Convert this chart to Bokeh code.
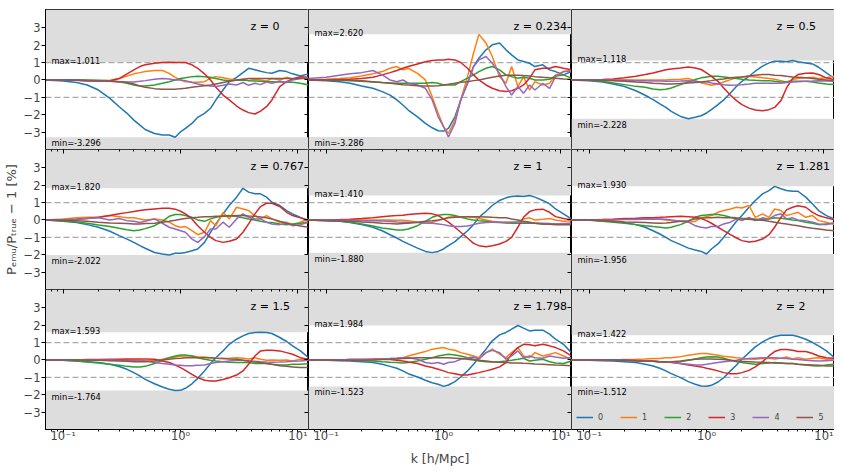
from bokeh.plotting import figure
from bokeh.layouts import gridplot
from bokeh.models import (Range1d, FixedTicker, LogTicker, BoxAnnotation, Span, Label,
                          Legend, LegendItem, LinearAxis, LogAxis, CustomJSTickFormatter)
from bokeh.embed import file_html
from bokeh.resources import INLINE

# ---------------- data ----------------
K = [0.07, 0.1, 0.13, 0.16, 0.2, 0.25, 0.3, 0.35, 0.4, 0.45, 0.5, 0.6, 0.7, 0.8, 0.9,
     1.0, 1.1, 1.25, 1.4, 1.6, 1.8, 2.0, 2.3, 2.6, 3.0, 3.4, 3.8, 4.3, 4.8, 5.4, 6.0,
     7.0, 8.0, 9.0, 10.5, 12.3]

Z_LABELS = ["0", "0.234", "0.5", "0.767", "1", "1.281", "1.5", "1.798", "2"]
MAX_VALS = [1.011, 2.620, 1.118, 1.820, 1.410, 1.930, 1.593, 1.984, 1.422]
MIN_VALS = [-3.296, -3.286, -2.228, -2.022, -1.880, -1.956, -1.764, -1.523, -1.512]
SERIES = ["0", "1", "2", "3", "4", "5"]
COLORS = ["#1f77b4", "#ff7f0e", "#2ca02c", "#d62728", "#9467bd", "#8c564b"]

Z_0 = [
    [0, -0.06, -0.15, -0.29, -0.58, -1.06, -1.54, -1.92, -2.31, -2.6, -2.85, -3.08, -3.17, -3.17, -3.3, -2.98, -2.79, -2.5, -2.15, -1.92, -1.63, -1.15, -0.58, -0.1, 0.15, 0.42, 0.67, 0.58, 0.5, 0.42, 0.38, 0.54, 0.48, 0.35, 0.23, 0.35],
    [0, 0, 0, -0.02, -0.04, -0.02, 0.08, 0.23, 0.35, 0.42, 0.48, 0.54, 0.54, 0.38, 0.15, 0, -0.1, -0.12, -0.13, -0.1, 0.1, 0.19, 0.13, 0.06, 0, 0.04, -0.04, 0.04, 0, -0.06, 0.08, 0, 0.15, 0.04, 0.15, 0.08],
    [0, 0, 0, 0, -0.02, -0.04, -0.1, -0.19, -0.29, -0.35, -0.35, -0.29, -0.19, -0.1, 0, 0.08, 0.13, 0.19, 0.21, 0.19, 0.15, 0.08, 0, -0.04, -0.02, 0, -0.04, -0.06, -0.08, -0.1, -0.1, -0.12, -0.13, -0.13, -0.19, -0.29],
    [0, 0, -0.02, -0.04, -0.06, -0.06, 0.08, 0.35, 0.58, 0.77, 0.87, 0.96, 1.0, 1.01, 1.0, 1.0, 1.0, 0.87, 0.67, 0.35, 0, -0.42, -0.87, -1.15, -1.5, -1.73, -1.88, -1.96, -1.79, -1.54, -1.15, -0.38, -0.1, 0.06, 0.19, 0.15],
    [0, 0, -0.02, -0.04, -0.06, -0.08, -0.1, -0.12, -0.12, -0.08, -0.04, 0.04, 0.08, 0.06, 0, 0, -0.04, -0.15, -0.23, -0.31, -0.35, -0.38, -0.31, -0.23, -0.29, -0.15, -0.31, -0.19, -0.27, -0.12, -0.19, -0.08, -0.15, 0, 0.08, 0.15],
    [0, 0, -0.02, -0.04, -0.06, -0.08, -0.1, -0.15, -0.23, -0.35, -0.42, -0.5, -0.54, -0.54, -0.54, -0.5, -0.48, -0.42, -0.38, -0.33, -0.29, -0.23, -0.15, -0.08, 0, 0.04, 0.08, 0.08, 0.08, 0.08, 0.08, 0.08, 0.08, 0.08, 0.08, 0.08],
]
Z_0234 = [
    [0, -0.04, -0.1, -0.19, -0.35, -0.48, -0.67, -0.87, -1.15, -1.44, -1.73, -2.12, -2.5, -2.75, -2.92, -2.94, -2.79, -2.12, -1.15, -0.19, 0.77, 1.25, 1.73, 2.02, 2.12, 1.73, 1.44, 1.15, 1.06, 0.96, 0.77, 0.87, 0.58, 0.48, 0.29, 0.48],
    [0, 0.04, 0.08, 0.13, 0.23, 0.35, 0.48, 0.67, 0.77, 0.58, 0.67, 0.38, 0, -0.96, -1.92, -2.69, -3.08, -2.31, -1.15, 0.19, 1.54, 2.62, 2.12, 1.35, 0.19, -0.19, 0.77, -0.38, 0.19, -0.58, -0.1, -0.29, -0.19, 0.29, 0.48, 0.54],
    [0, 0, -0.02, -0.04, -0.08, -0.12, -0.15, -0.17, -0.19, -0.19, -0.19, -0.19, -0.19, -0.15, -0.19, -0.29, -0.29, -0.29, -0.1, 0.1, 0.29, 0.48, 0.67, 0.77, 0.58, 0.29, 0.19, 0.1, 0.15, 0.1, 0, 0, 0.04, 0.23, 0.29, 0.1],
    [0, 0, 0.02, 0.04, 0.08, 0.15, 0.29, 0.42, 0.54, 0.67, 0.77, 0.92, 1.04, 1.12, 1.15, 1.15, 1.19, 1.15, 1.0, 0.67, 0.29, 0, -0.29, -0.48, -0.62, -0.67, -0.62, -0.48, -0.29, 0.1, 0.58, 0.67, 0.67, 0.77, 0.67, 0.58],
    [0.08, 0.15, 0.27, 0.35, 0.42, 0.54, 0.29, 0, -0.1, 0, -0.19, -0.29, -0.48, -1.15, -2.12, -2.69, -3.28, -2.5, -1.15, -0.19, 0.77, 1.15, 1.35, 0.96, 0.38, -0.38, -0.87, -0.38, -0.77, -0.29, -0.58, -0.19, -0.48, 0.19, 0.48, 0.48],
    [0, 0, 0, -0.02, -0.04, -0.1, -0.15, -0.19, -0.23, -0.27, -0.29, -0.33, -0.35, -0.35, -0.33, -0.29, -0.25, -0.19, -0.13, -0.1, -0.04, 0, 0.08, 0.15, 0.23, 0.27, 0.27, 0.27, 0.25, 0.23, 0.19, 0.15, 0.12, 0.1, 0.06, 0.04],
]
Z_05 = [
    [0, -0.04, -0.12, -0.23, -0.38, -0.62, -0.88, -1.13, -1.38, -1.58, -1.81, -2.1, -2.23, -2.15, -2.06, -1.9, -1.71, -1.42, -1.15, -0.75, -0.37, -0.08, 0.21, 0.5, 0.79, 0.98, 1.08, 1.08, 1.04, 1.12, 1.04, 0.98, 0.92, 0.73, 0.4, 0.08],
    [0, 0, 0, 0, 0, 0, 0, 0, 0, 0, 0.02, 0.04, 0.08, -0.04, -0.17, -0.23, -0.31, -0.23, -0.12, 0.02, 0.12, 0.17, 0.21, 0.17, 0.12, 0.08, 0.04, -0.04, -0.12, 0.02, 0.08, 0.12, 0.15, 0.08, 0.12, 0.21],
    [0, -0.02, -0.08, -0.17, -0.27, -0.37, -0.42, -0.52, -0.56, -0.54, -0.46, -0.27, -0.12, 0.02, 0.12, 0.17, 0.21, 0.21, 0.17, 0.12, 0.08, 0.04, 0, -0.02, -0.04, -0.04, -0.08, -0.12, -0.12, -0.08, -0.08, -0.08, -0.12, -0.17, -0.23, -0.27],
    [0, 0, 0.02, 0.06, 0.12, 0.21, 0.31, 0.4, 0.5, 0.58, 0.63, 0.69, 0.75, 0.69, 0.6, 0.4, 0.21, -0.08, -0.46, -0.88, -1.19, -1.42, -1.62, -1.73, -1.77, -1.71, -1.58, -1.19, -0.46, 0.08, 0.31, 0.38, 0.4, 0.31, 0.12, 0],
    [0, 0, 0, -0.02, -0.02, -0.04, -0.04, -0.06, -0.06, -0.08, -0.08, -0.06, -0.04, -0.08, -0.12, -0.12, -0.17, -0.23, -0.27, -0.31, -0.29, -0.27, -0.23, -0.19, -0.19, -0.19, -0.19, -0.19, -0.15, -0.12, -0.1, -0.08, -0.06, -0.04, -0.06, -0.08],
    [0, -0.02, -0.02, -0.04, -0.08, -0.12, -0.15, -0.19, -0.21, -0.23, -0.23, -0.21, -0.17, -0.15, -0.12, -0.08, -0.04, 0.02, 0.06, 0.12, 0.15, 0.17, 0.23, 0.27, 0.31, 0.31, 0.27, 0.25, 0.21, 0.17, 0.15, 0.12, 0.08, 0.04, 0, -0.04],
]
Z_0767 = [
    [0, -0.08, -0.15, -0.27, -0.42, -0.65, -0.9, -1.1, -1.29, -1.48, -1.63, -1.87, -1.96, -2.02, -1.92, -1.92, -1.87, -1.77, -1.67, -1.29, -0.71, -0.23, 0.35, 0.83, 1.31, 1.82, 1.6, 1.5, 1.5, 1.31, 1.02, 0.83, 0.54, 0.35, 0.15, -0.04],
    [0, 0.06, 0.12, 0.15, 0.15, 0.25, 0.19, 0.12, 0.12, 0.06, 0, 0.06, 0, -0.13, -0.33, -0.42, -0.38, -0.62, -0.85, -0.71, -0.04, -0.33, 0.44, 0.06, 0.73, 0.63, 0.54, 0.25, 0.06, 0.25, 0.06, -0.13, -0.13, -0.27, -0.13, 0.06],
    [0, -0.04, -0.12, -0.19, -0.29, -0.38, -0.48, -0.56, -0.62, -0.58, -0.5, -0.33, -0.08, 0.21, 0.31, 0.31, 0.25, 0.15, 0, -0.08, 0.06, 0.15, 0.23, 0.25, 0.19, 0.12, 0.06, 0, -0.08, -0.13, -0.15, -0.23, -0.27, -0.23, -0.19, -0.12],
    [0, 0, 0.04, 0.08, 0.15, 0.25, 0.35, 0.42, 0.48, 0.54, 0.58, 0.63, 0.67, 0.67, 0.62, 0.5, 0.35, 0.06, -0.33, -0.71, -1.0, -1.19, -1.29, -1.23, -1.1, -0.71, -0.23, 0.35, 0.77, 0.96, 0.96, 0.77, 0.44, 0.25, 0.12, -0.04],
    [0, 0, 0.04, 0.08, 0.12, 0, 0.08, -0.04, -0.08, -0.15, -0.08, 0.06, -0.19, -0.42, -0.52, -0.62, -0.71, -1.1, -1.29, -0.96, -0.52, -0.52, -0.13, -0.42, 0.06, 0.35, 0.15, 0.06, 0.06, -0.13, -0.23, -0.27, -0.19, -0.33, -0.27, -0.13],
    [0, -0.02, -0.04, -0.08, -0.13, -0.17, -0.19, -0.21, -0.23, -0.23, -0.21, -0.19, -0.13, -0.08, -0.02, 0.04, 0.08, 0.12, 0.15, 0.19, 0.19, 0.21, 0.21, 0.23, 0.25, 0.25, 0.23, 0.21, 0.17, 0.12, 0.06, -0.08, -0.19, -0.27, -0.35, -0.42],
]
Z_1 = [
    [0, -0.04, -0.08, -0.15, -0.27, -0.42, -0.62, -0.85, -1.04, -1.23, -1.38, -1.62, -1.81, -1.88, -1.81, -1.67, -1.48, -1.25, -0.96, -0.62, -0.27, 0.15, 0.5, 0.83, 1.12, 1.27, 1.35, 1.38, 1.35, 1.41, 1.31, 1.12, 0.92, 0.63, 0.35, 0.06],
    [0, 0, 0, 0, 0, 0, 0, 0, -0.02, -0.02, -0.04, -0.13, -0.19, -0.13, -0.04, 0.06, 0.15, 0.19, 0.19, 0.19, 0.15, 0.08, 0, -0.08, -0.13, -0.19, -0.19, -0.13, 0.06, 0.12, 0, 0.04, 0.08, 0, -0.08, -0.04],
    [0, -0.02, -0.06, -0.13, -0.23, -0.35, -0.46, -0.52, -0.58, -0.58, -0.52, -0.33, -0.08, 0.15, 0.27, 0.31, 0.31, 0.25, 0.15, 0.06, 0, -0.04, -0.08, -0.13, -0.15, -0.15, -0.19, -0.19, -0.19, -0.19, -0.19, -0.23, -0.23, -0.23, -0.23, -0.19],
    [0, 0, 0.02, 0.04, 0.08, 0.13, 0.19, 0.23, 0.25, 0.27, 0.31, 0.35, 0.38, 0.35, 0.25, 0.06, -0.13, -0.42, -0.71, -1.04, -1.35, -1.48, -1.54, -1.48, -1.38, -1.23, -1.0, -0.42, 0.15, 0.48, 0.58, 0.62, 0.44, 0.19, 0.08, 0],
    [0, 0, -0.02, -0.02, -0.04, -0.04, -0.06, -0.08, -0.12, -0.13, -0.13, -0.15, -0.17, -0.19, -0.23, -0.27, -0.33, -0.38, -0.38, -0.35, -0.27, -0.19, -0.15, -0.13, -0.13, -0.13, -0.12, -0.12, -0.13, -0.15, -0.17, -0.19, -0.21, -0.23, -0.21, -0.19],
    [0, -0.04, -0.06, -0.08, -0.12, -0.15, -0.19, -0.21, -0.23, -0.21, -0.19, -0.13, -0.08, -0.04, 0, 0.06, 0.12, 0.15, 0.17, 0.19, 0.19, 0.19, 0.17, 0.15, 0.13, 0.12, 0.06, 0, -0.08, -0.13, -0.19, -0.23, -0.25, -0.27, -0.27, -0.27],
]
Z_1281 = [
    [0, 0, -0.04, -0.08, -0.15, -0.27, -0.42, -0.62, -0.81, -1.0, -1.19, -1.42, -1.62, -1.73, -1.81, -1.96, -1.67, -1.38, -1.0, -0.52, -0.08, 0.25, 0.73, 1.12, 1.5, 1.69, 1.93, 1.79, 1.69, 1.65, 1.65, 1.31, 0.92, 0.54, 0.25, 0.06],
    [0, 0, 0.02, 0.02, 0.04, 0.06, 0.08, 0.06, 0.04, 0, -0.04, -0.08, -0.13, -0.08, 0.12, 0.19, 0.25, 0.44, 0.54, 0.63, 0.73, 0.69, 0.83, 0.15, 0.35, 0.15, 0.63, 0.54, 0.25, 0.35, 0.44, 0.15, 0.25, -0.04, -0.13, -0.27],
    [0, -0.02, -0.08, -0.13, -0.19, -0.27, -0.33, -0.38, -0.42, -0.46, -0.42, -0.27, -0.08, 0.15, 0.25, 0.29, 0.31, 0.31, 0.25, 0.15, 0.12, 0.1, 0.08, 0.06, 0.04, 0.06, 0.12, 0.1, 0.06, 0, -0.04, -0.13, -0.19, -0.27, -0.23, -0.19],
    [0, 0, 0.02, 0.04, 0.08, 0.1, 0.12, 0.13, 0.15, 0.17, 0.19, 0.21, 0.19, 0.15, 0.08, -0.04, -0.19, -0.42, -0.62, -0.85, -1.04, -1.19, -1.27, -1.23, -1.1, -0.85, -0.42, 0.15, 0.58, 0.73, 0.81, 0.73, 0.44, 0.25, 0.12, 0],
    [0, 0, 0, 0, 0.02, 0.02, 0.04, 0.04, 0.06, 0.04, 0, -0.08, -0.13, -0.33, -0.42, -0.46, -0.38, -0.38, -0.23, -0.13, 0.06, -0.04, 0.15, -0.04, 0.12, 0.06, 0.25, 0.35, 0.06, 0.12, 0, -0.04, -0.13, -0.23, -0.27, -0.15],
    [0, 0, -0.04, -0.08, -0.12, -0.13, -0.15, -0.17, -0.19, -0.17, -0.15, -0.08, -0.04, 0.06, 0.1, 0.12, 0.13, 0.15, 0.13, 0.12, 0.08, 0.06, 0.04, 0, -0.02, -0.08, -0.13, -0.19, -0.23, -0.29, -0.33, -0.42, -0.48, -0.52, -0.58, -0.62],
]
Z_15 = [
    [0, -0.02, -0.06, -0.1, -0.15, -0.25, -0.38, -0.54, -0.73, -0.92, -1.12, -1.37, -1.56, -1.69, -1.76, -1.75, -1.63, -1.37, -1.06, -0.63, -0.21, 0.13, 0.52, 0.9, 1.19, 1.38, 1.52, 1.58, 1.59, 1.58, 1.52, 1.29, 1.06, 0.81, 0.52, 0.13],
    [0, 0, 0, 0, 0, 0, 0.02, 0, -0.02, -0.02, -0.04, -0.06, 0.04, 0.13, 0.17, 0.21, 0.23, 0.23, 0.19, 0.17, 0.13, 0.1, 0.08, 0.1, 0.13, 0.1, 0.06, 0.13, 0.04, -0.02, 0, -0.02, 0, -0.06, 0.04, 0.02],
    [0, -0.02, -0.06, -0.12, -0.17, -0.25, -0.31, -0.37, -0.4, -0.4, -0.37, -0.21, -0.02, 0.13, 0.23, 0.29, 0.29, 0.23, 0.13, 0.04, -0.02, -0.06, -0.1, -0.13, -0.15, -0.15, -0.15, -0.21, -0.21, -0.21, -0.25, -0.29, -0.29, -0.25, -0.25, -0.21],
    [0, 0, 0, 0.02, 0.02, 0.04, 0.04, 0.06, 0.06, 0.06, 0.06, 0.04, -0.06, -0.15, -0.29, -0.44, -0.6, -0.83, -1.02, -1.17, -1.21, -1.21, -1.13, -1.02, -0.87, -0.63, -0.25, 0.23, 0.52, 0.56, 0.56, 0.52, 0.42, 0.33, 0.13, 0.04],
    [0, 0, 0, 0, 0, 0, -0.02, -0.04, -0.04, -0.06, -0.06, -0.15, -0.21, -0.25, -0.29, -0.31, -0.33, -0.33, -0.31, -0.29, -0.21, -0.15, -0.1, -0.06, -0.02, -0.02, -0.06, -0.08, -0.1, -0.12, -0.13, -0.12, -0.1, -0.08, -0.06, -0.02],
    [0, 0, 0, -0.02, -0.02, -0.04, -0.06, -0.08, -0.1, -0.1, -0.1, -0.06, 0, 0.04, 0.08, 0.1, 0.12, 0.13, 0.13, 0.13, 0.12, 0.1, 0.08, 0.06, 0.04, -0.02, -0.06, -0.12, -0.15, -0.21, -0.25, -0.33, -0.37, -0.4, -0.44, -0.44],
]
Z_1798 = [
    [0, -0.02, -0.04, -0.06, -0.1, -0.15, -0.25, -0.37, -0.48, -0.63, -0.79, -0.98, -1.17, -1.31, -1.4, -1.52, -1.44, -1.25, -0.98, -0.63, -0.25, 0.13, 0.62, 1.1, 1.44, 1.58, 1.77, 1.98, 1.83, 1.67, 1.71, 1.71, 1.48, 1.19, 0.9, 0.42],
    [0, 0, 0, 0.02, 0.02, 0.04, 0.06, 0.08, 0.1, 0.13, 0.23, 0.37, 0.48, 0.62, 0.67, 0.71, 0.62, 0.56, 0.42, 0.33, 0.23, 0.13, 0.42, 0.62, 0.33, 0.13, 0.42, 0.71, 0.23, 0.13, 0.42, 0.23, 0.33, 0.42, 0.23, 0.04],
    [0, 0, 0, -0.02, -0.04, -0.06, -0.1, -0.13, -0.15, -0.17, -0.15, -0.06, 0.04, 0.13, 0.23, 0.29, 0.33, 0.29, 0.23, 0.13, 0.04, -0.06, -0.1, -0.12, -0.1, -0.06, -0.02, 0.04, 0.1, -0.06, -0.02, 0.04, -0.1, -0.17, -0.21, -0.06],
    [0, 0, 0, 0.02, 0.02, 0.04, 0.04, 0.02, -0.02, -0.06, -0.12, -0.21, -0.35, -0.44, -0.54, -0.63, -0.73, -0.79, -0.87, -0.87, -0.79, -0.73, -0.63, -0.54, -0.4, -0.15, 0.33, 0.71, 0.9, 0.87, 0.81, 0.9, 0.81, 0.71, 0.52, 0.23],
    [0, 0, 0, 0.02, 0.02, 0.04, 0.06, 0.08, 0.1, 0.12, 0.13, 0.04, -0.15, -0.21, -0.15, -0.25, -0.15, -0.1, 0.04, 0.13, 0.17, 0.04, 0.42, 0.56, 0.42, 0.04, 0.23, 0.52, 0.13, 0.23, 0.13, 0.1, 0.23, 0.17, 0.1, 0.13],
    [0, 0, -0.02, -0.02, -0.02, 0, 0.02, 0.04, 0.06, 0.08, 0.1, 0.12, 0.13, 0.13, 0.13, 0.13, 0.12, 0.1, 0.08, 0.04, 0, -0.02, -0.06, -0.1, -0.13, -0.15, -0.17, -0.17, -0.19, -0.21, -0.23, -0.25, -0.27, -0.29, -0.31, -0.33],
]
Z_2 = [
    [0, -0.02, -0.04, -0.06, -0.1, -0.15, -0.25, -0.35, -0.48, -0.63, -0.79, -1.02, -1.25, -1.4, -1.5, -1.51, -1.46, -1.27, -1.02, -0.63, -0.29, 0.04, 0.42, 0.75, 1.04, 1.23, 1.35, 1.42, 1.42, 1.42, 1.35, 1.19, 1.0, 0.81, 0.52, 0.13],
    [0, 0, 0, 0, 0.02, 0.04, 0.06, 0.08, 0.08, 0.12, 0.13, 0.19, 0.27, 0.33, 0.37, 0.37, 0.33, 0.27, 0.21, 0.17, 0.13, 0.1, 0.06, 0.04, 0.08, 0.1, 0.06, 0.1, 0.17, 0.06, 0.13, 0.04, 0.1, 0.13, 0.04, 0.06],
    [0, 0, 0, 0, -0.02, -0.04, -0.06, -0.08, -0.1, -0.12, -0.13, -0.1, -0.02, 0.06, 0.13, 0.17, 0.19, 0.17, 0.1, -0.02, -0.1, -0.15, -0.21, -0.25, -0.21, -0.17, -0.15, -0.17, -0.21, -0.21, -0.25, -0.29, -0.33, -0.35, -0.29, -0.25],
    [0, 0, 0, 0, -0.02, -0.04, -0.06, -0.08, -0.1, -0.12, -0.13, -0.21, -0.29, -0.35, -0.4, -0.48, -0.54, -0.63, -0.73, -0.79, -0.79, -0.73, -0.6, -0.4, -0.1, 0.23, 0.48, 0.6, 0.6, 0.56, 0.48, 0.48, 0.37, 0.23, 0.13, 0.1],
    [0, 0, 0, 0, 0, -0.02, -0.04, -0.06, -0.1, -0.12, -0.15, -0.21, -0.25, -0.29, -0.29, -0.25, -0.21, -0.15, -0.1, -0.06, -0.02, 0.04, 0.08, 0.1, 0.12, 0.13, 0.12, 0.1, 0.08, 0.04, 0.02, -0.02, -0.04, -0.06, -0.04, -0.02],
    [0, 0, 0, 0, -0.02, -0.04, -0.06, -0.08, -0.1, -0.12, -0.1, -0.06, 0, 0.04, 0.06, 0.06, 0.06, 0.04, 0.02, -0.02, -0.06, -0.08, -0.1, -0.12, -0.13, -0.15, -0.17, -0.19, -0.21, -0.21, -0.25, -0.27, -0.29, -0.31, -0.35, -0.35],
]
PANELS = [Z_0, Z_0234, Z_05, Z_0767, Z_1, Z_1281, Z_15, Z_1798, Z_2]

# ---------------- style ----------------
FONT = "DejaVu Sans"
TICK_FS = "11.5px"
FW, FH = 263, 140
YTICKS = [-3, -2, -1, 0, 1, 2, 3]
SHADE = "#dddddd"

sup_fmt = CustomJSTickFormatter(code="""
const e = Math.round(Math.log10(tick));
const sup = {"-": "\u207b", "0": "\u2070", "1": "\u00b9", "2": "\u00b2", "3": "\u00b3",
             "4": "\u2074", "5": "\u2075", "6": "\u2076", "7": "\u2077", "8": "\u2078", "9": "\u2079"};
return "10" + String(e).split("").map(c => sup[c]).join("");
""")


def blank_fmt():
    return CustomJSTickFormatter(code='return "";')


figs = []
for i in range(9):
    r, c = divmod(i, 3)
    p = figure(x_axis_type="log", title=None,
               x_range=Range1d(0.0707, 12.3), y_range=Range1d(-4.0, 4.05),
               frame_width=FW, frame_height=FH,
               x_axis_location="below" if r == 2 else None,
               y_axis_location="left" if c == 0 else None,
               toolbar_location=None, output_backend="svg",
               min_border_left=36 if c == 0 else 0, min_border_right=0,
               min_border_top=9 if r == 0 else 0, min_border_bottom=0,
               background_fill_color="white", border_fill_color="white",
               outline_line_color="black", outline_line_width=1)
    p.grid.visible = False

    if c == 0:
        ax = p.yaxis[0]
        ax.ticker = FixedTicker(ticks=YTICKS, minor_ticks=[])
        ax.major_tick_out = 4
        ax.major_tick_in = 0
        ax.minor_tick_out = 0
        ax.major_label_standoff = 1
        ax.major_label_text_font = FONT
        ax.major_label_text_font_size = TICK_FS
        ax.axis_label = "P\u2091\u2098\u1d64/P\u209c\u1d63\u1d64\u2091 \u2212 1 [%]" if r == 1 else " "
        ax.axis_label_text_font = FONT
        ax.axis_label_text_font_size = "13px"
        ax.axis_label_text_font_style = "normal"
        ax.axis_label_standoff = 2
    if r == 2:
        ax = p.xaxis[0]
        ax.ticker = LogTicker(num_minor_ticks=10)
        ax.formatter = sup_fmt
        ax.major_tick_out = 3
        ax.major_tick_in = 0
        ax.minor_tick_out = 2
        ax.minor_tick_in = 0
        ax.major_label_standoff = -4
        ax.major_label_text_font = FONT
        ax.major_label_text_font_size = TICK_FS
        ax.axis_label = "k [h/Mpc]" if c == 1 else " "
        ax.axis_label_text_font = FONT
        ax.axis_label_text_font_size = "12.5px"
        ax.axis_label_text_font_style = "normal"
        ax.axis_label_standoff = 5

    # tick marks along the shared inner edges
    if r > 0:
        tax = LogAxis(ticker=LogTicker(num_minor_ticks=10), formatter=blank_fmt(),
                      major_label_text_font_size="0px",
                      major_label_standoff=0, major_tick_in=4, major_tick_out=0,
                      minor_tick_in=2, minor_tick_out=0, axis_line_color=None)
        p.add_layout(tax, "above")
    if c < 2:
        rax = LinearAxis(ticker=FixedTicker(ticks=YTICKS, minor_ticks=[]), formatter=blank_fmt(),
                         major_label_text_font_size="0px", major_label_standoff=0,
                         major_tick_in=4, major_tick_out=0, minor_tick_in=0, minor_tick_out=0,
                         axis_line_color=None)
        p.add_layout(rax, "right")

    maxv, minv = MAX_VALS[i], MIN_VALS[i]
    p.add_layout(BoxAnnotation(bottom=maxv, fill_color=SHADE, fill_alpha=1.0,
                               line_color=None, level="underlay"))
    p.add_layout(BoxAnnotation(top=minv, fill_color=SHADE, fill_alpha=1.0,
                               line_color=None, level="underlay"))
    for yv in (1.0, -1.0):
        p.add_layout(Span(location=yv, dimension="width", line_color="#aaaaaa",
                          line_dash="6 3", line_width=1.2, level="underlay"))

    renderers = []
    for s in range(6):
        rr = p.line(K, PANELS[i][s], line_color=COLORS[s], line_width=1.5)
        renderers.append(rr)

    p.add_layout(Label(x=6, y=maxv, x_units="screen", y_units="data", y_offset=1,
                       text="max=%.3f" % maxv, text_font=FONT, text_font_size="8.3px",
                       text_baseline="alphabetic", text_color="black"))
    p.add_layout(Label(x=6, y=minv, x_units="screen", y_units="data", y_offset=-1,
                       text="min=%.3f" % minv, text_font=FONT, text_font_size="8.3px",
                       text_baseline="top", text_color="black"))
    p.add_layout(Label(x=205, y=FH - 17, x_units="screen", y_units="screen",
                       text="z = " + Z_LABELS[i], text_font=FONT, text_font_size="11px",
                       text_font_style="normal", text_baseline="alphabetic",
                       text_color="black"))

    if i == 8:
        items = [LegendItem(label=SERIES[s], renderers=[renderers[s]]) for s in range(6)]
        leg = Legend(items=items, orientation="horizontal", location=(2, 4),
                     border_line_alpha=0, background_fill_alpha=0,
                     label_text_font=FONT, label_text_font_size="8px",
                     glyph_width=17, glyph_height=10, label_height=10, label_width=5,
                     label_standoff=5, spacing=17, padding=3, margin=0)
        p.add_layout(leg)
    figs.append(p)

grid = gridplot([figs[0:3], figs[3:6], figs[6:9]], toolbar_location=None)

open("out.html", "w").write(file_html(grid, INLINE))
